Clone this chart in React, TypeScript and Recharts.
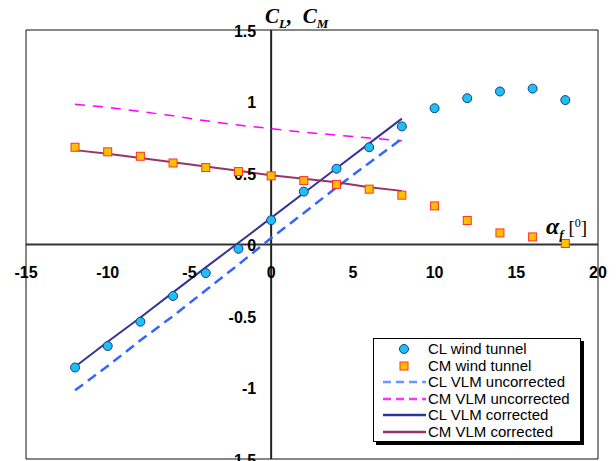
import React from 'react';
import {
  ComposedChart,
  Line,
  Scatter,
  XAxis,
  YAxis,
  CartesianGrid,
  ReferenceLine,
  ReferenceDot,
} from 'recharts';

// angle of attack (deg)
const tunnelAlpha = [-12, -10, -8, -6, -4, -2, 0, 2, 4, 6, 8, 10, 12, 14, 16, 18];
const clTunnel = [-0.86, -0.71, -0.54, -0.36, -0.2, -0.03, 0.17, 0.37, 0.53, 0.68, 0.826, 0.953, 1.023, 1.07, 1.09, 1.01];
const cmTunnel = [0.68, 0.648, 0.617, 0.57, 0.538, 0.51, 0.48, 0.447, 0.42, 0.387, 0.345, 0.27, 0.168, 0.081, 0.053, 0.007];

const vlmAlpha = [-12, -10, -8, -6, -4, -2, 0, 2, 4, 6, 8];
const clUncorrected = [-1.02, -0.85, -0.67, -0.5, -0.32, -0.14, 0.045, 0.22, 0.4, 0.57, 0.74];
const cmUncorrected = [0.98, 0.96, 0.93, 0.9, 0.865, 0.835, 0.81, 0.785, 0.765, 0.745, 0.725];
const clCorrected = [-0.855, -0.68, -0.51, -0.335, -0.16, 0.012, 0.186, 0.36, 0.533, 0.707, 0.88];
const cmCorrected = [0.66, 0.635, 0.605, 0.575, 0.545, 0.515, 0.485, 0.46, 0.435, 0.4, 0.375];

const xTicks = [-15, -10, -5, 0, 5, 10, 15, 20];
const yTicks = [-1.5, -1, -0.5, 0, 0.5, 1, 1.5];

const toPoints = (xs: number[], ys: number[]) => xs.map((x, i) => ({ x, y: ys[i] }));

const tickFont = { fontFamily: 'Arial, "Liberation Sans", sans-serif', fontWeight: 700, fontSize: 16, fill: '#000' };

const Circle = (props: any) => (
  <circle cx={props.cx} cy={props.cy} r={4.5} fill="#1ec0f0" stroke="#1a3a8a" strokeWidth={1} />
);

const Square = (props: any) => (
  <rect x={props.cx - 4} y={props.cy - 4} width={8} height={8} fill="#ffc000" stroke="#ff3030" strokeWidth={1} />
);

const legendItems = [
  { name: 'CL wind tunnel', kind: 'circle' },
  { name: 'CM wind tunnel', kind: 'square' },
  { name: 'CL VLM uncorrected', kind: 'line', color: '#6699ff', dash: '8 5' },
  { name: 'CM VLM uncorrected', kind: 'line', color: '#ff33ff', dash: '8 5' },
  { name: 'CL VLM corrected', kind: 'line', color: '#333399' },
  { name: 'CM VLM corrected', kind: 'line', color: '#993366' },
];

const LegendBox = () => (
  <div
    style={{
      position: 'absolute',
      left: 365,
      top: 330,
      width: 208,
      height: 104,
      border: '1px solid #000',
      background: '#fff',
      boxShadow: '3px 3px 0 #000',
      fontFamily: 'Arial, "Liberation Sans", sans-serif',
      fontSize: 15,
      padding: '2px 0 0 8px',
      boxSizing: 'border-box',
    }}
  >
    {legendItems.map((it) => (
      <div key={it.name} style={{ display: 'flex', alignItems: 'center', height: 16.5, lineHeight: '16.5px' }}>
        <svg width={46} height={16} style={{ flex: 'none' }}>
          {it.kind === 'circle' && <Circle cx={22} cy={8} />}
          {it.kind === 'square' && <Square cx={22} cy={8} />}
          {it.kind === 'line' && (
            <line x1={1} y1={8} x2={44} y2={8} stroke={it.color} strokeWidth={2.5} strokeDasharray={it.dash} />
          )}
        </svg>
        <span style={{ whiteSpace: 'nowrap' }}>{it.name}</span>
      </div>
    ))}
  </div>
);

const App = () => {
  return (
    <div style={{ position: 'relative', width: 600, height: 453 }}>
      <ComposedChart width={600} height={453} margin={{ top: 22, right: 10, bottom: 2, left: 18 }}>
        <CartesianGrid stroke="#111" strokeWidth={1} />
        <XAxis
          type="number"
          dataKey="x"
          domain={[-15, 20]}
          ticks={xTicks}
          tick={false}
          tickLine={false}
          axisLine={false}
          height={0}
        />
        <YAxis
          type="number"
          dataKey="y"
          domain={[-1.5, 1.5]}
          ticks={yTicks}
          tick={false}
          tickLine={false}
          axisLine={false}
          width={0}
        />
        <ReferenceLine x={0} stroke="#222" strokeWidth={2} />
        <ReferenceLine y={0} stroke="#333" strokeWidth={2} />
        {xTicks.map((t) => (
          <ReferenceDot
            key={'x' + t}
            x={t}
            y={0}
            r={0}
            shape={(p: any) => (
              <text x={p.cx} y={p.cy + 28} textAnchor="middle" dominantBaseline="central" style={tickFont}>
                {t}
              </text>
            )}
          />
        ))}
        {yTicks.map((t) => (
          <ReferenceDot
            key={'y' + t}
            x={0}
            y={t}
            r={0}
            shape={(p: any) => (
              <text x={p.cx - 15} y={p.cy + 1} textAnchor="end" dominantBaseline="central" style={tickFont}>
                {t}
              </text>
            )}
          />
        ))}
        <Line
          data={toPoints(vlmAlpha, cmUncorrected)}
          dataKey="y"
          stroke="#ff00ff"
          strokeWidth={1.5}
          strokeDasharray="10 8"
          dot={false}
          type="linear"
          isAnimationActive={false}
          name="CM VLM uncorrected"
        />
        <Line
          data={toPoints(vlmAlpha, clUncorrected)}
          dataKey="y"
          stroke="#3366ff"
          strokeWidth={2.5}
          strokeDasharray="10 6"
          dot={false}
          type="linear"
          isAnimationActive={false}
          name="CL VLM uncorrected"
        />
        <Line
          data={toPoints(vlmAlpha, clCorrected)}
          dataKey="y"
          stroke="#333399"
          strokeWidth={2}
          dot={false}
          type="linear"
          isAnimationActive={false}
          name="CL VLM corrected"
        />
        <Line
          data={toPoints(vlmAlpha, cmCorrected)}
          dataKey="y"
          stroke="#993366"
          strokeWidth={2}
          dot={false}
          type="linear"
          isAnimationActive={false}
          name="CM VLM corrected"
        />
        <Scatter
          data={toPoints(tunnelAlpha, clTunnel)}
          shape={Circle}
          isAnimationActive={false}
          name="CL wind tunnel"
        />
        <Scatter
          data={toPoints(tunnelAlpha, cmTunnel)}
          shape={Square}
          isAnimationActive={false}
          name="CM wind tunnel"
        />
      </ComposedChart>
      <LegendBox />
      <div
        style={{
          position: 'absolute',
          left: 257,
          top: -3,
          fontFamily: '"Liberation Serif", "DejaVu Serif", serif',
          fontWeight: 700,
          fontStyle: 'italic',
          fontSize: 21,
          lineHeight: '22px',
          whiteSpace: 'nowrap',
        }}
      >
        C<sub style={{ fontSize: 13 }}>L</sub>,&nbsp; C<sub style={{ fontSize: 13 }}>M</sub>
      </div>
      <div
        style={{
          position: 'absolute',
          left: 538,
          top: 204,
          fontFamily: '"Liberation Serif", "DejaVu Serif", serif',
          fontSize: 19,
          lineHeight: '22px',
          whiteSpace: 'nowrap',
        }}
      >
        <span style={{ fontWeight: 700, fontStyle: 'italic', fontSize: 24 }}>α</span>
        <sub style={{ fontWeight: 700, fontStyle: 'italic', fontSize: 13 }}>f</sub>
        <span> [<sup style={{ fontSize: 12 }}>0</sup>]</span>
      </div>
    </div>
  );
};

export default App;
